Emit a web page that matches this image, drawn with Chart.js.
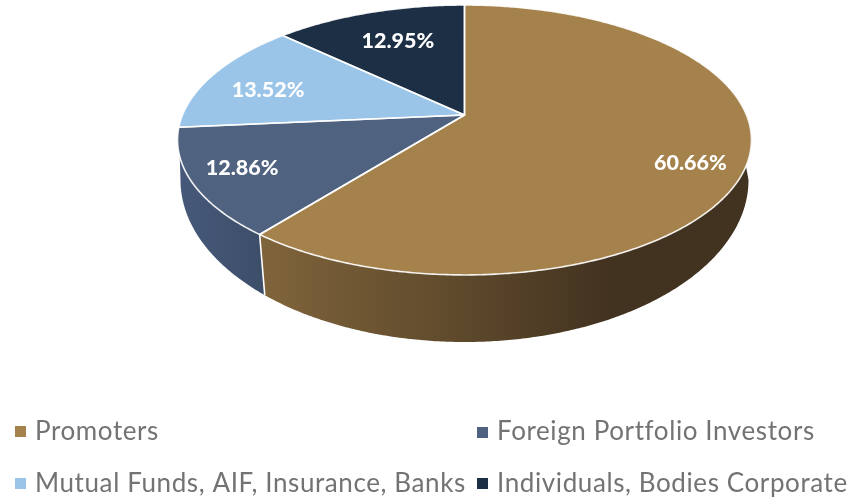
<!DOCTYPE html>
<html>
<head>
<meta charset="utf-8">
<style>html,body{margin:0;padding:0;background:#fff}canvas{display:block}</style>
<script src="https://cdn.jsdelivr.net/npm/chart.js@4"></script>
</head>
<body>
<canvas id="c" width="863" height="497"></canvas>
<script>
const categories = ['Promoters', 'Foreign Portfolio Investors', 'Mutual Funds, AIF, Insurance, Banks', 'Individuals, Bodies Corporate'];
const shares = [60.66, 12.86, 13.52, 12.95];
const topColors = ['#A5824C', '#4F627F', '#9AC4E8', '#1D2F45'];

// Projection of the pie's disc (tilted, in perspective)
const P = { cx: 464.5, apexY: 115, A: 282, B: 109.07, p: 0.185 };
// Lower rim ellipse of the wall
const L = { cx: 464.5, cy: 180, a: 284, b: 162, seam: 0.975 };
const labelOffsets = [[2, 12], [-9, 0], [7, 8], [12, 10]];
const labelRadius = 0.8;
const legendSlots = [[15, 426, 35, 440], [477, 427, 497, 440], [15, 478, 35, 492], [477, 478, 497, 492]];
const legendSpacing = 0.6;

function proj(theta, r = 1) {
  const u = Math.sin(theta) * r, v = -Math.cos(theta) * r, d = 1 - P.p * v;
  return [P.cx + P.A * u / d, P.apexY + (P.B * v) / d + (P.apexY * (1 / d - 1))];
}
const toTheta = a => a + Math.PI / 2;
function sample(t0, t1, fn) {
  const n = Math.max(2, Math.ceil(Math.abs(t1 - t0) / 0.01)), out = [];
  for (let i = 0; i <= n; i++) out.push(fn(t0 + (t1 - t0) * i / n));
  return out;
}
function trace(ctx, pts, move) {
  pts.forEach((q, i) => (i === 0 && move) ? ctx.moveTo(q[0], q[1]) : ctx.lineTo(q[0], q[1]));
}
// θ at which the disc reaches its left / right silhouette
const thetaR = Math.acos(P.p), thetaL = 2 * Math.PI - thetaR;
function lowerPhi(x, k = 1) {
  return Math.asin(Math.max(-1, Math.min(1, (x - L.cx) * k / L.a)));
}
const lowerPt = phi => [L.cx + L.a * Math.sin(phi), L.cy + L.b * Math.cos(phi)];

const pie3d = {
  id: 'pie3d',
  beforeDatasetDraw(chart, args) {
    const ctx = chart.ctx, arcs = args.meta.data;
    const seamTheta = toTheta(arcs[0].endAngle);
    const foreignEnd = toTheta(arcs[1].endAngle);
    const seamTop = proj(seamTheta);
    const seamPhi = lowerPhi(seamTop[0], L.seam);
    const seamLow = lowerPt(seamPhi);
    ctx.save();
    // foreign wall
    let g = ctx.createLinearGradient(178, 0, 265, 0);
    g.addColorStop(0, '#46597A');
    g.addColorStop(1, '#3C4E68');
    ctx.fillStyle = g;
    ctx.beginPath();
    trace(ctx, sample(seamTheta, Math.min(thetaL, foreignEnd), t => proj(t)), true);
    trace(ctx, sample(-Math.PI / 2, seamPhi, lowerPt), false);
    ctx.closePath();
    ctx.fill();
    // promoters wall
    g = ctx.createLinearGradient(260, 0, 610, 0);
    g.addColorStop(0, '#80643B');
    g.addColorStop(0.55, '#5F4A2C');
    g.addColorStop(1, '#423220');
    ctx.fillStyle = g;
    ctx.beginPath();
    trace(ctx, sample(thetaR, seamTheta, t => proj(t)), true);
    trace(ctx, sample(seamPhi, Math.PI / 2, lowerPt), false);
    ctx.closePath();
    ctx.fill();
    // seam
    ctx.strokeStyle = '#FFFFFF';
    ctx.lineWidth = 1.6;
    ctx.beginPath();
    ctx.moveTo(seamTop[0], seamTop[1]);
    ctx.lineTo(seamLow[0], seamLow[1]);
    ctx.stroke();
    // top faces, from the library's arc elements
    ctx.lineJoin = 'round';
    arcs.forEach(arc => {
      const t0 = toTheta(arc.startAngle), t1 = toTheta(arc.endAngle);
      ctx.beginPath();
      ctx.moveTo(P.cx, P.apexY);
      trace(ctx, sample(t0, t1, t => proj(t)), false);
      ctx.closePath();
      ctx.fillStyle = arc.options.backgroundColor;
      ctx.fill();
    });
    arcs.forEach(arc => {
      const t0 = toTheta(arc.startAngle), t1 = toTheta(arc.endAngle);
      ctx.beginPath();
      ctx.moveTo(P.cx, P.apexY);
      trace(ctx, sample(t0, t1, t => proj(t)), false);
      ctx.closePath();
      ctx.strokeStyle = 'rgba(255,255,255,0.9)';
      ctx.lineWidth = 1.6;
      ctx.stroke();
    });
    // value labels
    ctx.fillStyle = '#FFFFFF';
    ctx.font = '900 21.5px Lato';
    ctx.textAlign = 'center';
    ctx.textBaseline = 'middle';
    arcs.forEach((arc, i) => {
      const mid = (toTheta(arc.startAngle) + toTheta(arc.endAngle)) / 2;
      const q = proj(mid, labelRadius);
      ctx.fillText(shares[i].toFixed(2) + '%', q[0] + labelOffsets[i][0], q[1] + labelOffsets[i][1]);
    });
    ctx.restore();
    return false;
  },
  afterDraw(chart) {
    const ctx = chart.ctx;
    ctx.save();
    ctx.textAlign = 'left';
    ctx.textBaseline = 'alphabetic';
    ctx.font = '26px Lato';
    ctx.letterSpacing = legendSpacing + 'px';
    categories.forEach((name, i) => {
      const s = legendSlots[i];
      ctx.fillStyle = topColors[i];
      ctx.fillRect(s[0], s[1], 11, 11);
      ctx.fillStyle = '#737373';
      ctx.fillText(name, s[2], s[3]);
    });
    ctx.restore();
  }
};

new Chart(document.getElementById('c'), {
  type: 'pie',
  data: { labels: categories, datasets: [{ data: shares, backgroundColor: topColors, borderWidth: 0 }] },
  options: {
    responsive: false,
    animation: false,
    plugins: { legend: { display: false }, tooltip: { enabled: false } }
  },
  plugins: [pie3d]
});
</script>
</body>
</html>
